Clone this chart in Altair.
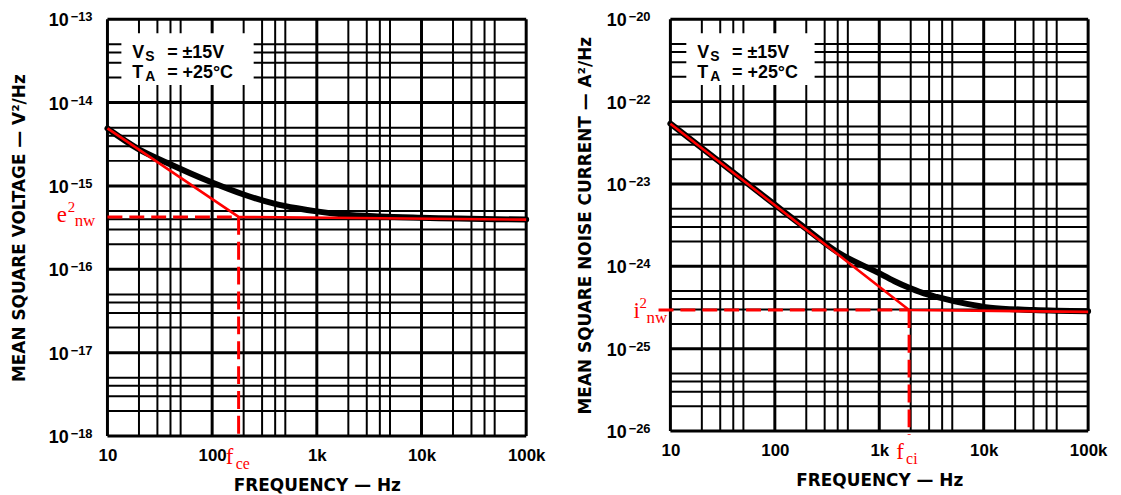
import altair as alt
import pandas as pd

# ---------------- data ----------------
freq_ticks = [10, 100, 1000, 10000, 100000]
freq_tick_labels = ["10", "100", "1k", "10k", "100k"]
grid_mults = [1, 2, 3, 4, 5]

left_decades = [-13, -14, -15, -16, -17, -18]
left_exp_labels = ["−13", "−14", "−15", "−16", "−17", "−18"]
right_decades = [-21, -22, -23, -24, -25, -26]
right_exp_labels = ["−20", "−22", "−23", "−24", "−25", "−26"]

# measured curve (black)
left_curve_f = [10, 20, 37, 100, 200, 400, 650, 1000, 1800, 4000, 10000, 100000]
left_curve_v = [4.9e-15, 2.75e-15, 1.9e-15, 1.1e-15, 7.9e-16, 6.1e-16, 5.4e-16,
                4.95e-16, 4.55e-16, 4.3e-16, 4.15e-16, 3.95e-16]
right_curve_f = [10, 100, 200, 400, 950, 1400, 1860, 2600, 3550, 6900, 11500, 30000, 100000]
right_curve_v = [5.4e-23, 5.6e-24, 2.85e-24, 1.48e-24, 8.5e-25, 6.6e-25, 5.6e-25,
                 4.75e-25, 4.25e-25, 3.5e-25, 3.15e-25, 2.95e-25, 2.85e-25]

# red asymptote construction
left_asym_f = [10, 179, 100000]
left_asym_v = [4.9e-15, 4.25e-16, 3.95e-16]
right_asym_f = [10, 1930, 100000]
right_asym_v = [5.4e-23, 2.95e-25, 2.8e-25]
left_corner = {"f0": 10, "fc": 179, "v": 4.25e-16}
right_corner = {"f0": 7.7, "fc": 1930, "v": 2.95e-25}

legend_rows = [("V", "S", "= ±15V"), ("T", "A", "= +25°C")]

# ---------------- styling ----------------
RED = "#ff0000"
INK = "#000000"
SANS = "Liberation Sans"
TITLE_FONT = "DejaVu Sans"
SERIF = "Liberation Serif"

label_expr = " : ".join(
    f"datum.value == {v} ? '{t}'" for v, t in zip(freq_ticks, freq_tick_labels)
) + " : ''"


def panel(cfg):
    W, H = cfg["w"], cfg["h"]
    xscale = alt.Scale(type="log", domain=[10, 100000], nice=False)
    yscale = alt.Scale(type="log", domain=cfg["ydomain"], nice=False)
    xaxis = alt.Axis(values=freq_ticks, labelExpr=label_expr, title="FREQUENCY — Hz",
                     grid=False, ticks=False, domain=False, labelPadding=12,
                     titlePadding=14, labelFlush=False)
    yaxis = alt.Axis(labels=False, ticks=False, domain=False, grid=False,
                     title=cfg["ytitle"], titlePadding=cfg["ytp"])

    def X(field):
        return alt.X(field, type="quantitative", scale=xscale, axis=xaxis)

    def Y(field):
        return alt.Y(field, type="quantitative", scale=yscale, axis=yaxis)

    # grid
    vrows = []
    for d in freq_ticks[:-1]:
        for m in grid_mults:
            vrows.append({"f": m * d, "w": 3 if m == 1 else 2})
    vrows.append({"f": freq_ticks[-1], "w": 3})
    decs = cfg["decades"]
    hrows = [{"v": 10.0 ** e, "w": 3} for e in decs]
    for e in decs[1:]:
        for m in grid_mults[1:]:
            hrows.append({"v": m * 10.0 ** e, "w": 2})

    vgrid = alt.Chart(pd.DataFrame(vrows)).mark_rule(color=INK).encode(
        x=X("f"), strokeWidth=alt.StrokeWidth("w:Q", scale=None))
    hgrid = alt.Chart(pd.DataFrame(hrows)).mark_rule(color=INK).encode(
        y=Y("v"), strokeWidth=alt.StrokeWidth("w:Q", scale=None))

    one = pd.DataFrame({"a": [0]})
    bx = cfg["box"]
    box = alt.Chart(one).mark_rect(color="white").encode(
        x=alt.value(bx[0]), x2=alt.value(bx[1]), y=alt.value(bx[2]), y2=alt.value(bx[3]))

    leg = []
    b = cfg["legx"]
    for i, (main, sub, rest) in enumerate(legend_rows):
        base = 39 + 20 * i
        leg.append(alt.Chart(one).mark_text(text=main, font=SANS, fontWeight="bold", fontSize=18,
                                            align="left", baseline="alphabetic", color=INK)
                   .encode(x=alt.value(b), y=alt.value(base)))
        leg.append(alt.Chart(one).mark_text(text=sub, font=SANS, fontWeight="bold", fontSize=14,
                                            align="left", baseline="alphabetic", color=INK)
                   .encode(x=alt.value(b + 13), y=alt.value(base + 3)))
        leg.append(alt.Chart(one).mark_text(text=rest, font=SANS, fontWeight="bold", fontSize=18,
                                            align="left", baseline="alphabetic", color=INK)
                   .encode(x=alt.value(b + 35), y=alt.value(base)))

    curve = alt.Chart(pd.DataFrame({"f": cfg["cf"], "v": cfg["cv"]})).mark_line(
        color=INK, strokeWidth=6, interpolate="monotone", strokeCap="round").encode(x=X("f"), y=Y("v"))
    asym = alt.Chart(pd.DataFrame({"f": cfg["af"], "v": cfg["av"]})).mark_line(
        color=RED, strokeWidth=2.6).encode(x=X("f"), y=Y("v"))

    corner = pd.DataFrame([cfg["corner"]])
    hdash = alt.Chart(corner).mark_rule(color=RED, strokeWidth=3, strokeDash=[15, 7]).encode(
        x=X("f0"), x2=alt.X2("fc"), y=Y("v"))
    vdash = alt.Chart(corner).mark_rule(color=RED, strokeWidth=3, strokeDash=[18, 7]).encode(
        x=X("fc"), y=Y("v"), y2=alt.value(H + 4))

    # red labels
    lab = cfg["lab"]
    red = [
        alt.Chart(corner).mark_text(text=lab[0], font=SERIF, fontSize=23, color=RED, align="left",
                                    baseline="alphabetic", dy=cfg["ldy"][0])
        .encode(x=alt.value(cfg["lx"][0]), y=Y("v")),
        alt.Chart(corner).mark_text(text="2", font=SERIF, fontSize=15, color=RED, align="left",
                                    baseline="alphabetic", dy=cfg["ldy"][1])
        .encode(x=alt.value(cfg["lx"][1]), y=Y("v")),
        alt.Chart(corner).mark_text(text="nw", font=SERIF, fontSize=17, color=RED, align="left",
                                    baseline="alphabetic", dy=cfg["ldy"][2])
        .encode(x=alt.value(cfg["lx"][2]), y=Y("v")),
        alt.Chart(corner).mark_text(text="f", font=SERIF, fontSize=23, color=RED, align="left",
                                    baseline="alphabetic", dx=-13)
        .encode(x=X("fc"), y=alt.value(H + 28)),
        alt.Chart(corner).mark_text(text=cfg["fsub"], font=SERIF, fontSize=16, color=RED, align="left",
                                    baseline="alphabetic", dx=-3)
        .encode(x=X("fc"), y=alt.value(H + 33)),
    ]

    # y tick labels (10 with superscript exponent)
    ylab = pd.DataFrame({"v": [10.0 ** e for e in decs], "exp": cfg["exps"], "base": ["10"] * len(decs)})
    ybase = alt.Chart(ylab).mark_text(font=SANS, fontWeight="bold", fontSize=18, align="right",
                                      baseline="alphabetic", dy=7, color=INK).encode(
        x=alt.value(cfg["basex"]), y=Y("v"), text="base:N")
    yexp = alt.Chart(ylab).mark_text(font=SANS, fontWeight="bold", fontSize=13, align="left",
                                     baseline="alphabetic", dy=2, color=INK).encode(
        x=alt.value(cfg["basex"] + 2), y=Y("v"), text="exp:N")

    layers = [vgrid, hgrid, box] + leg + [curve, asym, hdash, vdash] + red + [ybase, yexp]
    return alt.layer(*layers).properties(width=W, height=H)


left = panel({
    "w": 421, "h": 419, "ydomain": [1e-18, 1e-13], "decades": left_decades,
    "exps": left_exp_labels, "ytitle": "MEAN SQUARE VOLTAGE — V²/Hz", "ytp": 79,
    "box": [14, 147, 14, 66], "legx": 25, "cf": left_curve_f, "cv": left_curve_v,
    "af": left_asym_f, "av": left_asym_v, "corner": left_corner,
    "lab": "e", "lx": [-51, -40, -33], "ldy": [5, -5, 9], "fsub": "ce", "basex": -39,
})
right = panel({
    "w": 420, "h": 414, "ydomain": [1e-26, 1e-21], "decades": right_decades,
    "exps": right_exp_labels, "ytitle": "MEAN SQUARE NOISE CURRENT — A²/Hz", "ytp": 76,
    "box": [16, 145, 14, 66], "legx": 27, "cf": right_curve_f, "cv": right_curve_v,
    "af": right_asym_f, "av": right_asym_v, "corner": right_corner,
    "lab": "i", "lx": [-37, -31, -24], "ldy": [8, -2, 13], "fsub": "ci", "basex": -44,
})

chart = alt.hconcat(left, right, spacing=145, bounds="flush").properties(
    padding={"left": 2, "top": 1, "right": 5, "bottom": 2}
).configure_view(stroke="transparent").configure(background="white").configure_axis(
    labelFont=SANS, labelFontWeight="bold", labelFontSize=17, labelColor=INK,
    titleFont=TITLE_FONT, titleFontWeight="bold", titleFontSize=17, titleColor=INK,
)

chart.save("out.html", embed_options={"renderer": "svg", "actions": False})
